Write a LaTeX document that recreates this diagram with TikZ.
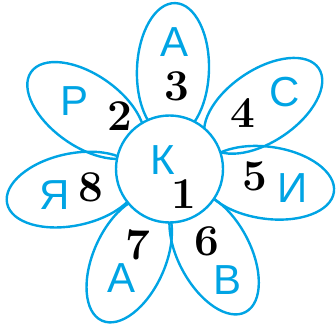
\documentclass[tikz,border=0pt]{standalone}
\usepackage{fontspec}
\newfontfamily\letterfont{Liberation Sans}
\usetikzlibrary{
positioning,
shapes.geometric,
calc
}
\definecolor{petalblue}{RGB}{0,164,228}
\tikzset{
petal/.style={
draw=petalblue,
line width=2.4pt,
ellipse,
inner sep=0pt,
minimum width=134pt,
minimum height=72pt
},
heart/.style={
draw=petalblue,
line width=2.4pt,
circle,
fill=white,
inner sep=0pt,
minimum size=107pt
},
letter/.style={
text=petalblue,
inner sep=0pt,
font=\letterfont\fontsize{42}{42}\selectfont
},
digit/.style={
inner sep=0pt,
font=\bfseries\fontsize{44}{44}\selectfont
}
}
\begin{document}
\begin{tikzpicture}[x=1pt,y=1pt]
\useasboundingbox (0,0) rectangle (336,329);

\coordinate (ctr) at (169.5,160);

% petals
\foreach \ang/\dist/\name in {88/99/pA, 34/113/pS, -8/99/pI, -62/95/pV, -114/99/pAA, -168/99/pYa, 145/102/pR}
  \node[petal, rotate=\ang] (\name) at ($(ctr)+(\ang:\dist)$) {};

\node[heart] (core) at (ctr) {};

% letters
\node[letter] (lK) at (163,169) {К};
\node[letter] (lA) at (175,287) {А};
\node[letter] (lS) at (285,237) {С};
\node[letter] (lI) at (293,141) {И};
\node[letter] (lV) at (228,49) {В};
\node[letter] (lAA) at (122,51) {А};
\node[letter] (lYa) at (55,134) {Я};
\node[letter] (lR) at (75,228) {Р};

% numbers
\node[digit] (n1) at (184,135) {1};
\node[digit] (n2) at (120,213) {2};
\node[digit] (n3) at (177,243) {3};
\node[digit] (n4) at (243,216) {4};
\node[digit] (n5) at (255,153) {5};
\node[digit] (n6) at (207,88) {6};
\node[digit] (n7) at (138,84) {7};
\node[digit] (n8) at (91,142) {8};

\end{tikzpicture}
\end{document}
